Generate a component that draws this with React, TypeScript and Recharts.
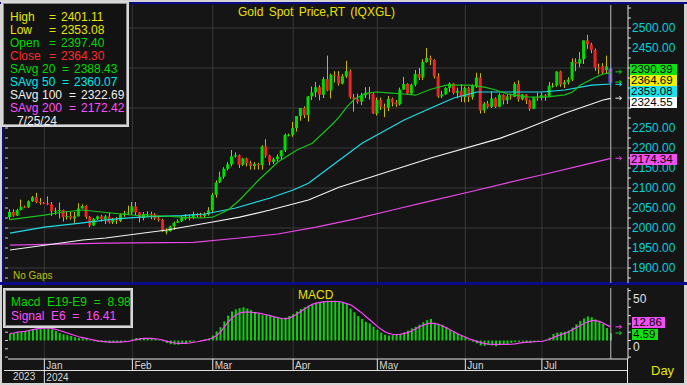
import React from 'react';
import {
  ComposedChart,
  Bar,
  Line,
  XAxis,
  YAxis,
  CartesianGrid,
  ReferenceLine,
  ReferenceDot,
} from 'recharts';

const FONT = 'Arial, "Liberation Sans", Helvetica, sans-serif';

// sessions: Dec 19 2023 .. Jul 25 2024 (weekdays), month starts are session indexes
const monthLabels = ['Jan', 'Feb', 'Mar', 'Apr', 'May', 'Jun', 'Jul'];
const monthStarts = [9, 32, 53, 74, 96, 119, 139];
const padSlots = 4;

// open, high, low, close
const ohlc: [number, number, number, number][] = [
  [2027, 2047, 2021, 2040], [2040, 2047, 2028, 2031], [2031, 2048, 2030, 2045], [2045, 2071, 2044, 2053],
  [2053, 2056, 2050, 2052], [2052, 2069, 2050, 2067], [2067, 2080, 2065, 2077], [2077, 2088, 2062, 2065],
  [2065, 2075, 2058, 2063],
  // Jan
  [2063, 2065, 2060, 2062], [2062, 2079, 2057, 2059], [2059, 2065, 2030, 2042], [2042, 2051, 2033, 2043],
  [2043, 2064, 2024, 2045], [2045, 2046, 2016, 2027], [2027, 2041, 2021, 2030], [2030, 2040, 2021, 2024],
  [2024, 2040, 2013, 2029], [2029, 2062, 2029, 2049], [2049, 2059, 2048, 2055], [2055, 2057, 2023, 2028],
  [2028, 2030, 2002, 2006], [2006, 2025, 2005, 2023], [2023, 2031, 2020, 2029], [2029, 2033, 2016, 2022],
  [2022, 2033, 2010, 2029], [2029, 2038, 2011, 2014], [2014, 2025, 2010, 2021], [2021, 2027, 2010, 2018],
  [2018, 2037, 2015, 2033], [2033, 2043, 2028, 2037], [2037, 2056, 2032, 2039],
  // Feb
  [2039, 2065, 2034, 2054], [2054, 2065, 2032, 2039], [2039, 2040, 2014, 2025], [2025, 2040, 2019, 2035],
  [2035, 2042, 2027, 2035], [2035, 2041, 2022, 2034], [2034, 2037, 2020, 2024], [2024, 2031, 2016, 2020],
  [2020, 2023, 1990, 1992], [1992, 1999, 1984, 1992], [1992, 2006, 1991, 2004], [2004, 2016, 1995, 2013],
  [2013, 2022, 2013, 2017], [2017, 2031, 2015, 2025], [2025, 2035, 2020, 2026], [2026, 2034, 2019, 2025],
  [2025, 2041, 2022, 2035], [2035, 2037, 2027, 2031], [2031, 2038, 2025, 2030], [2030, 2039, 2025, 2034],
  [2034, 2052, 2031, 2044],
  // Mar
  [2044, 2088, 2039, 2083], [2083, 2119, 2076, 2114], [2114, 2141, 2112, 2128], [2128, 2152, 2123, 2148],
  [2148, 2165, 2144, 2159], [2159, 2195, 2154, 2179], [2179, 2189, 2176, 2182], [2182, 2184, 2150, 2158],
  [2158, 2175, 2155, 2174], [2174, 2176, 2154, 2162], [2162, 2168, 2146, 2155], [2155, 2165, 2146, 2160],
  [2160, 2163, 2146, 2157], [2157, 2207, 2146, 2204], [2204, 2222, 2176, 2181], [2181, 2183, 2157, 2165],
  [2165, 2176, 2160, 2172], [2172, 2184, 2167, 2179], [2179, 2195, 2170, 2194], [2194, 2236, 2190, 2233],
  [2233, 2236, 2229, 2233],
  // Apr
  [2233, 2265, 2228, 2250], [2250, 2280, 2241, 2280], [2280, 2300, 2268, 2300], [2300, 2304, 2275, 2282],
  [2282, 2330, 2266, 2329], [2329, 2354, 2320, 2339], [2339, 2365, 2327, 2352], [2352, 2357, 2319, 2333],
  [2333, 2378, 2325, 2372], [2372, 2431, 2342, 2344], [2344, 2386, 2324, 2383], [2383, 2392, 2364, 2381],
  [2381, 2392, 2356, 2361], [2361, 2385, 2359, 2379], [2379, 2418, 2375, 2392], [2392, 2396, 2323, 2327],
  [2327, 2335, 2291, 2322], [2322, 2336, 2311, 2316], [2316, 2338, 2307, 2332], [2332, 2352, 2325, 2337],
  [2337, 2353, 2321, 2335], [2335, 2337, 2285, 2286],
  // May
  [2286, 2326, 2281, 2320], [2320, 2326, 2295, 2303], [2303, 2311, 2277, 2301], [2301, 2330, 2292, 2323],
  [2323, 2326, 2304, 2314], [2314, 2320, 2303, 2309], [2309, 2351, 2306, 2346], [2346, 2378, 2345, 2360],
  [2360, 2362, 2333, 2336], [2336, 2361, 2333, 2358], [2358, 2395, 2354, 2385], [2385, 2400, 2370, 2376],
  [2376, 2422, 2370, 2415], [2415, 2450, 2413, 2425], [2425, 2431, 2407, 2420], [2420, 2422, 2374, 2379],
  [2379, 2387, 2325, 2329], [2329, 2343, 2325, 2334], [2334, 2352, 2333, 2350], [2350, 2364, 2340, 2361],
  [2361, 2362, 2334, 2338], [2338, 2351, 2324, 2343], [2343, 2360, 2315, 2327],
  // Jun
  [2327, 2354, 2314, 2350], [2350, 2353, 2315, 2327], [2327, 2359, 2321, 2355], [2355, 2388, 2350, 2376],
  [2376, 2387, 2286, 2294], [2294, 2315, 2287, 2311], [2311, 2318, 2299, 2303], [2303, 2342, 2300, 2324],
  [2324, 2327, 2300, 2303], [2303, 2337, 2302, 2333], [2333, 2334, 2309, 2319], [2319, 2334, 2310, 2329],
  [2329, 2336, 2321, 2328], [2328, 2365, 2327, 2360], [2360, 2369, 2316, 2322], [2322, 2335, 2319, 2334],
  [2334, 2335, 2310, 2319], [2319, 2321, 2293, 2298], [2298, 2328, 2297, 2327], [2327, 2338, 2318, 2326],
  // Jul
  [2326, 2339, 2319, 2332], [2332, 2335, 2318, 2330], [2330, 2365, 2327, 2356], [2356, 2363, 2351, 2356],
  [2356, 2392, 2353, 2391], [2391, 2393, 2353, 2359], [2359, 2370, 2350, 2364], [2364, 2377, 2359, 2371],
  [2371, 2424, 2367, 2415], [2415, 2424, 2392, 2411], [2411, 2440, 2402, 2422], [2422, 2469, 2410, 2469],
  [2469, 2483, 2448, 2459], [2459, 2463, 2437, 2445], [2445, 2449, 2393, 2401], [2401, 2411, 2384, 2397],
  [2405, 2412, 2385, 2389], [2395, 2431, 2385, 2404], [2397.4, 2401.11, 2353.08, 2364.3],
];

// simple averages at [session, value]
const sma20Pts: [number, number][] = [
  [0, 2021], [9, 2032], [14, 2040], [19, 2045], [24, 2040], [29, 2035], [35, 2030], [40, 2030],
  [45, 2027], [50, 2025], [53, 2027], [57, 2045], [60, 2070], [65, 2120], [70, 2165], [75, 2195],
  [79, 2212], [84, 2257], [86, 2277], [88, 2302], [90, 2322], [93, 2337], [96, 2340], [99, 2338],
  [103, 2335], [106, 2332], [110, 2347], [114, 2357], [120, 2357], [124, 2352], [127, 2345],
  [130, 2335], [135, 2328], [140, 2327], [145, 2333], [147, 2340], [149, 2357], [153, 2377],
  [155, 2385], [157, 2388],
];
const sma50Pts: [number, number][] = [
  [0, 1987], [9, 2002], [19, 2013], [27, 2022], [35, 2028], [45, 2031], [51, 2035], [59, 2050],
  [68, 2075], [74, 2095], [78, 2112], [92, 2212], [103, 2270], [110, 2300], [116, 2325], [122, 2340],
  [139, 2340], [145, 2345], [152, 2357], [157, 2360],
];
const sma100Pts: [number, number][] = [
  [0, 1945], [19, 1970], [25, 1975], [41, 1995], [53, 2015], [60, 2027], [68, 2045], [78, 2070],
  [86, 2102], [110, 2175], [128, 2224], [134, 2245], [145, 2287], [155, 2320], [157, 2324],
];
const sma200Pts: [number, number][] = [
  [0, 1957], [25, 1962], [48, 1964], [60, 1975], [70, 1985], [80, 2002], [90, 2022], [100, 2045],
  [110, 2068], [120, 2090], [130, 2113], [140, 2135], [150, 2158], [157, 2174],
];

// MACD (E19-E9) and signal (E6)
const macdBars = [
  8, 9, 10, 10.5, 11, 12.5, 13.5, 14, 14.5, 15,
  15, 13.5, 11.5, 9, 7.5, 6.5, 5.5, 4, 3, 2.5,
  2, 1, -1, -1.5, -2, -2.5, -3, -2.5, -2.5, -2,
  -1.5, 0, 1.5, 3, 3, 3, 2.5, 2, 1.5, 0.5,
  -1, -3, -4.5, -5, -5, -4, -3, -2, -1, 0,
  0.5, 1.5, 2.5, 6, 11, 16, 23, 30, 35, 37.5,
  39, 40, 38.5, 36.5, 34, 32, 30.5, 31.5, 30.5, 29,
  28, 27, 27.5, 29.5, 32, 35, 38, 40, 42, 43.5,
  45, 46.5, 47.5, 48, 48, 48, 47.5, 46, 44, 38.5,
  34, 29.5, 26, 22.5, 20.5, 16.5, 13, 9.5, 7, 6,
  6.5, 7, 8, 9.5, 12, 14.5, 16.5, 19, 22, 24.5,
  26, 21.5, 19.5, 19, 16, 12.5, 10.5, 8, 5.5, 3.5,
  1, -1.5, -3.5, -6, -6.5, -5.5, -6, -7, -5.5, -5,
  -4.5, -3, -2, -1.5, -1.5, -3, -2.5, -2, -1, 0,
  1, 3.5, 8, 9.5, 10, 10.5, 12, 15.5, 19.5, 23.5,
  26.5, 29, 28, 25.5, 23.5, 20, 15, 8.98,
];
const macdSignal = [
  8.5, 9, 10, 10.5, 11, 12, 13, 14, 14.5, 15,
  15, 14.5, 13.5, 12, 10.5, 9, 7.5, 6, 4.5, 3.5,
  2.5, 1.5, 0.5, -0.5, -1, -1.5, -2, -2, -2, -2,
  -1.5, -1, 0, 1, 2, 2.5, 2.5, 2.5, 2, 1.5,
  0.5, -1, -2, -3, -3.5, -3.5, -3.5, -3, -2, -1.5,
  -0.5, 0.5, 1.5, 3, 6, 10, 16, 22, 27, 30.5,
  33, 34, 34.5, 34, 33.5, 33, 32, 31, 30, 28.5,
  27.5, 26.5, 26, 27, 29, 32, 35, 38, 41, 43.5,
  45, 46, 46.5, 47, 47, 47, 47, 46, 44.5, 43,
  40, 36.5, 33, 29, 25, 21, 17, 13.5, 10.5, 8.5,
  7.5, 7, 7.5, 8.5, 9.5, 11.5, 14, 16.5, 18.5, 20,
  21, 20.5, 19.5, 17.5, 15.5, 13, 10.5, 8, 6, 4,
  2, 0.5, -1, -2.5, -3.5, -4.5, -4.7, -4.7, -4.7, -4.7,
  -4.7, -4.5, -4, -3.2, -2.5, -2, -2, -1.5, -1.2, -1,
  0, 1.5, 3.5, 5.5, 7, 8.5, 10.5, 13, 15.5, 18,
  20.5, 22.5, 24, 24, 23, 21, 18.5, 16.41,
];

const priceTicks = [
  1875, 1900, 1925, 1950, 1975, 2000, 2025, 2050, 2075, 2100, 2125, 2150, 2175, 2200,
  2225, 2250, 2275, 2300, 2325, 2350, 2375, 2400, 2425, 2450, 2475, 2500, 2525, 2550,
];
// labels left visible on the price scale (the rest sit under the value tags or off the top)
const priceLabels = [1900, 1950, 2000, 2050, 2100, 2150, 2200, 2250, 2450, 2500];
const priceGrid = [1900, 2000, 2100, 2200, 2300, 2400, 2500];
const macdTicks = [-20, -10, 0, 10, 20, 30, 40, 50, 60];
const macdLabels = [0, 50];

const priceDomain: [number, number] = [1862.5, 2557.5];
const macdDomain: [number, number] = [-22.3, 63.25];

const lastIdx = ohlc.length - 1;
const arrowSlot = ohlc.length + 1;

const rows: any[] = Array.from({ length: ohlc.length + padSlots }, (_, i) => {
  const row: any = { i };
  const bar = ohlc[i];
  if (bar) {
    row.o = bar[0];
    row.h = bar[1];
    row.l = bar[2];
    row.c = bar[3];
    row.macd = macdBars[i];
    row.signal = macdSignal[i];
    row.last = i === lastIdx;
  }
  return row;
});
sma20Pts.forEach(([i, v]) => (rows[i].s20 = v));
sma50Pts.forEach(([i, v]) => (rows[i].s50 = v));
sma100Pts.forEach(([i, v]) => (rows[i].s100 = v));
sma200Pts.forEach(([i, v]) => (rows[i].s200 = v));

const UP = '#00dc00';
const DOWN = '#ee2424';
const WICK = '#c8b800';

function Candle(props: any) {
  const { x, y, width, height, payload } = props;
  if (!payload || payload.h == null) return null;
  const { o, h, l, c, last } = payload;
  const top = Math.min(y, y + height);
  const ht = Math.abs(height);
  const span = h - l || 1;
  const toY = (v: number) => top + ((h - v) / span) * ht;
  const cx = Math.floor(x + width / 2) + 0.5;
  const bTop = toY(Math.max(o, c));
  const bBot = toY(Math.min(o, c));
  const fill = c >= o ? UP : DOWN;
  return (
    <g>
      <line x1={cx} x2={cx} y1={top} y2={top + ht} stroke={last ? '#3050ff' : WICK} strokeWidth={1} />
      <rect
        x={x}
        y={bTop}
        width={width}
        height={Math.max(1, bBot - bTop)}
        fill={fill}
        stroke={last ? '#3050ff' : 'none'}
        strokeWidth={last ? 1 : 0}
      />
    </g>
  );
}

function Arrow(props: any) {
  const { cx, cy, color } = props;
  if (cx == null || cy == null) return null;
  return (
    <path
      d={`M${cx - 3},${cy} H${cx + 3} M${cx + 1},${cy - 2} L${cx + 3},${cy} L${cx + 1},${cy + 2}`}
      stroke={color}
      strokeWidth={1}
      fill="none"
    />
  );
}

function MonthTick(props: any) {
  const { x, y, payload } = props;
  const idx = monthStarts.indexOf(payload.value);
  if (idx < 0) return null;
  const first = idx === 0;
  return (
    <g>
      <line x1={x} x2={x} y1={y} y2={y + (first ? 24 : 11)} stroke="#e6e6e6" />
      <text x={x + 2} y={y + 10} fill="#d8d8d8" fontSize={10}>
        {monthLabels[idx]}
      </text>
      {first && (
        <text x={x + 2} y={y + 22} fill="#d8d8d8" fontSize={10}>
          2024
        </text>
      )}
    </g>
  );
}

function MacdTick(props: any) {
  const { x, y, payload } = props;
  const v = payload.value;
  if (!macdLabels.includes(v)) return null;
  return (
    <text x={x} y={y + (v === 0 ? 6 : 0)} dy="0.355em" fill="#e0e0e0" fontSize={12} textAnchor="start">
      {v}
    </text>
  );
}

const candleRange = (d: any) => (d.h == null ? undefined : [d.l, d.h]);

function PriceChart() {
  return (
    <ComposedChart
      width={687}
      height={283}
      data={rows}
      margin={{ top: 5, right: 0, bottom: 0, left: 0 }}
    >
      <CartesianGrid
        yAxisId="p"
        stroke="#3a3a3a"
        horizontalValues={priceGrid}
        verticalValues={monthStarts}
      />
      <XAxis dataKey="i" type="category" hide />
      <YAxis
        yAxisId="l"
        orientation="left"
        width={8}
        domain={priceDomain}
        ticks={priceTicks}
        interval={0}
        tickSize={3}
        tickLine={{ stroke: '#cfcfcf' }}
        axisLine={false}
        tickFormatter={() => ''}
        allowDataOverflow
      />
      <YAxis
        yAxisId="p"
        orientation="right"
        width={59}
        domain={priceDomain}
        ticks={priceTicks}
        interval={0}
        tickSize={3}
        tickMargin={1}
        tickLine={{ stroke: '#e8e8e8' }}
        axisLine={{ stroke: '#e8e8e8' }}
        tick={{ fill: '#00d0d8', fontSize: 12 }}
        tickFormatter={(v: number) => (priceLabels.includes(v) ? v.toFixed(2) : '')}
        allowDataOverflow
      />
      <ReferenceLine yAxisId="p" x={lastIdx} stroke="#bdbdbd" />
      <Line yAxisId="p" dataKey="s200" stroke="#e848e8" strokeWidth={1.2} dot={false} connectNulls isAnimationActive={false} />
      <Line yAxisId="p" dataKey="s100" stroke="#f2f2f2" strokeWidth={1.2} dot={false} connectNulls isAnimationActive={false} />
      <Line yAxisId="p" dataKey="s50" stroke="#20dce8" strokeWidth={1.2} dot={false} connectNulls isAnimationActive={false} />
      <Line yAxisId="p" dataKey="s20" stroke="#18c418" strokeWidth={1.2} dot={false} connectNulls isAnimationActive={false} />
      <Bar
        yAxisId="p"
        dataKey={candleRange}
        barSize={3}
        shape={(p: any) => <Candle {...p} />}
        isAnimationActive={false}
      />
      <ReferenceDot yAxisId="p" x={arrowSlot} y={2390.39} r={0} shape={(p: any) => <Arrow {...p} color="#18d818" />} />
      <ReferenceDot yAxisId="p" x={arrowSlot} y={2364.69} r={0} shape={(p: any) => <Arrow {...p} color="#18d818" />} />
      <ReferenceDot yAxisId="p" x={arrowSlot} y={2359.08} r={0} shape={(p: any) => <Arrow {...p} color="#20dce8" />} />
      <ReferenceDot yAxisId="p" x={arrowSlot} y={2324.55} r={0} shape={(p: any) => <Arrow {...p} color="#f2f2f2" />} />
      <ReferenceDot yAxisId="p" x={arrowSlot} y={2174.34} r={0} shape={(p: any) => <Arrow {...p} color="#e848e8" />} />
    </ComposedChart>
  );
}

function MacdChart() {
  return (
    <ComposedChart
      width={687}
      height={100}
      data={rows}
      margin={{ top: 3, right: 0, bottom: 0, left: 0 }}
    >
      <CartesianGrid yAxisId="m" stroke="#333333" horizontal={false} verticalValues={monthStarts} />
      <XAxis
        dataKey="i"
        type="category"
        ticks={monthStarts}
        interval={0}
        height={26}
        tickSize={0}
        tickMargin={0}
        tickLine={false}
        axisLine={{ stroke: '#e8e8e8' }}
        tick={(p: any) => <MonthTick {...p} />}
      />
      <YAxis
        yAxisId="l"
        orientation="left"
        width={8}
        domain={macdDomain}
        ticks={macdTicks}
        interval={0}
        tickSize={3}
        tickLine={{ stroke: '#cfcfcf' }}
        axisLine={false}
        tickFormatter={() => ''}
        allowDataOverflow
      />
      <YAxis
        yAxisId="m"
        orientation="right"
        width={59}
        domain={macdDomain}
        ticks={macdTicks}
        interval={0}
        tickSize={3}
        tickMargin={2}
        tickLine={{ stroke: '#e8e8e8' }}
        axisLine={{ stroke: '#e8e8e8' }}
        tick={(p: any) => <MacdTick {...p} />}
        allowDataOverflow
      />
      <ReferenceLine yAxisId="m" x={lastIdx} stroke="#bdbdbd" />
      <Bar yAxisId="m" dataKey="macd" fill="#10d010" barSize={2} isAnimationActive={false} />
      <Line yAxisId="m" dataKey="signal" stroke="#ff44ff" strokeWidth={1.2} dot={false} isAnimationActive={false} />
      <ReferenceDot yAxisId="m" x={arrowSlot} y={16.41} r={0} shape={(p: any) => <Arrow {...p} color="#ff44ff" />} />
      <ReferenceDot yAxisId="m" x={arrowSlot} y={8.98} r={0} shape={(p: any) => <Arrow {...p} color="#18d818" />} />
    </ComposedChart>
  );
}

const legendItems = [
  { name: 'High', per: '', eq: 48, val: '2401.11', color: '#e6e600' },
  { name: 'Low', per: '', eq: 48, val: '2353.08', color: '#e6e600' },
  { name: 'Open', per: '', eq: 48, val: '2397.40', color: '#00d800' },
  { name: 'Close', per: '', eq: 48, val: '2364.30', color: '#ff2a2a' },
  { name: 'SAvg', per: '20', eq: 61, val: '2388.43', color: '#00d800' },
  { name: 'SAvg', per: '50', eq: 61, val: '2360.07', color: '#00e6e6' },
  { name: 'SAvg', per: '100', eq: 68, val: '2322.69', color: '#f0f0f0' },
  { name: 'SAvg', per: '200', eq: 68, val: '2172.42', color: '#ff50ff' },
];

const valueTags = [
  { text: '2390.39', bg: '#10e010', top: 64 },
  { text: '2364.69', bg: '#f0f000', top: 75 },
  { text: '2359.08', bg: '#20e4ec', top: 86 },
  { text: '2324.55', bg: '#ffffff', top: 97 },
  { text: '2174.34', bg: '#f050f0', top: 153.5 },
];

const abs = (s: React.CSSProperties): React.CSSProperties => ({ position: 'absolute', ...s });

export default function App() {
  const txt: React.CSSProperties = { position: 'absolute', fontSize: 12, lineHeight: '14px', whiteSpace: 'pre' };
  const tag: React.CSSProperties = {
    position: 'absolute',
    height: 11,
    color: '#000',
    fontSize: 11.5,
    lineHeight: '11px',
    paddingLeft: 1,
    whiteSpace: 'pre',
  };
  return (
    <div
      style={abs({
        left: 0,
        top: 0,
        width: 687,
        height: 385,
        background: '#d4d4d4',
        overflow: 'hidden',
        fontFamily: FONT,
      })}
    >
      <div style={abs({ left: 0, top: 2, width: 687, height: 2, background: '#0b0b8a' })} />
      <div style={abs({ left: 2, top: 2, width: 2, height: 280, background: '#0b0b8a' })} />
      <div style={abs({ left: 4, top: 4, width: 680, height: 278, background: '#151515' })} />
      <div style={abs({ left: 0, top: 282, width: 687, height: 3, background: '#0b0b8a' })} />
      <div style={abs({ left: 2, top: 285, width: 682, height: 98, background: '#151515' })} />

      <div style={abs({ left: 0, top: 0 })}>
        <PriceChart />
      </div>
      <div style={abs({ left: 0, top: 285 })}>
        <MacdChart />
      </div>

      {/* date strip */}
      <div style={abs({ left: 4, top: 370, width: 624, height: 1, background: '#e0e0e0' })} />
      <div style={abs({ left: 627, top: 359, width: 1, height: 24, background: '#e8e8e8' })} />
      <div style={{ ...txt, left: 13, top: 370, fontSize: 10, color: '#d8d8d8' }}>2023</div>
      <div style={{ ...txt, left: 651, top: 364, fontSize: 13, color: '#e8e800' }}>Day</div>

      {/* titles */}
      <div style={{ ...txt, left: 238, top: 5, color: '#e8e000', wordSpacing: 2 }}>Gold Spot Price,RT (IQXGL)</div>
      <div style={{ ...txt, left: 298, top: 288, color: '#e8e000' }}>MACD</div>
      <div style={{ ...txt, left: 13, top: 269, fontSize: 10, color: '#c0c000' }}>No Gaps</div>

      {/* price legend */}
      <div
        style={abs({
          left: 1,
          top: 1,
          width: 128,
          height: 126,
          boxSizing: 'border-box',
          background: '#121212',
          border: '2px solid #d8d8d8',
          boxShadow: 'inset 0 0 0 1px #8a8a8a',
        })}
      >
        {legendItems.map((it, k) => (
          <React.Fragment key={k}>
            <span style={{ ...txt, left: 7, top: 6.5 + k * 13, color: it.color }}>{it.name}</span>
            {it.per && <span style={{ ...txt, left: 39, top: 6.5 + k * 13, color: it.color }}>{it.per}</span>}
            <span style={{ ...txt, left: it.eq - 2, top: 6.5 + k * 13, color: it.color }}>=</span>
            <span style={{ ...txt, left: it.eq + 10, top: 6.5 + k * 13, color: it.color }}>{it.val}</span>
          </React.Fragment>
        ))}
        <span style={{ ...txt, left: 14, top: 6.5 + 8 * 13, color: '#f0f0f0' }}>7/25/24</span>
      </div>

      {/* macd legend */}
      <div
        style={abs({
          left: 3,
          top: 288,
          width: 130,
          height: 40,
          boxSizing: 'border-box',
          background: '#121212',
          border: '2px solid #d8d8d8',
          boxShadow: 'inset 0 0 0 1px #8a8a8a',
        })}
      >
        <span style={{ ...txt, left: 6, top: 5, color: '#00d800' }}>{'Macd  E19-E9  =  8.98'}</span>
        <span style={{ ...txt, left: 6, top: 19, color: '#ff50ff' }}>{'Signal  E6  =  16.41'}</span>
      </div>

      {/* last value tags */}
      {valueTags.map((t) => (
        <div key={t.text} style={{ ...tag, left: 630, top: t.top, width: 46, background: t.bg }}>
          {t.text}
        </div>
      ))}
      <div style={{ ...tag, left: 632, top: 317, width: 32, background: '#f050f0' }}>12.86</div>
      <div style={{ ...tag, left: 632, top: 329, width: 25, background: '#10e010' }}>4.59</div>
    </div>
  );
}
